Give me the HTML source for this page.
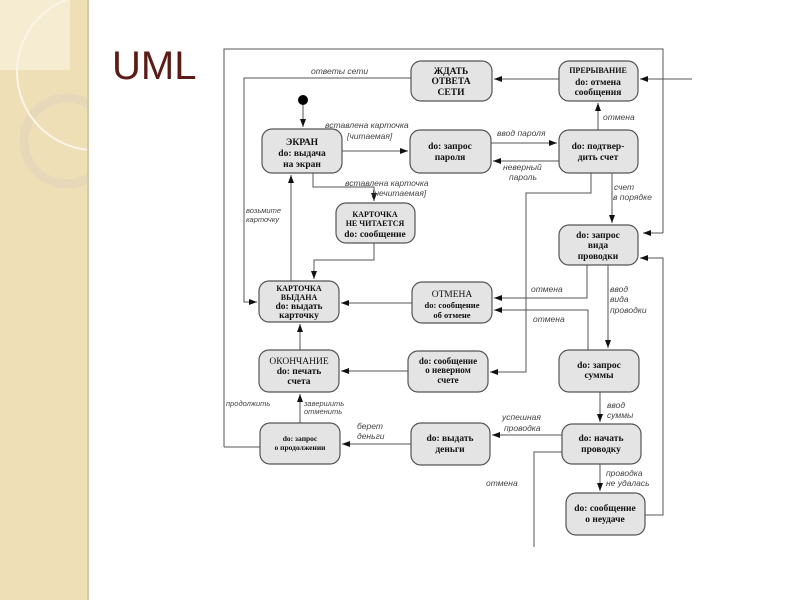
<!DOCTYPE html>
<html><head><meta charset="utf-8"><style>
html,body{margin:0;padding:0;background:#fff;width:800px;height:600px;overflow:hidden}
svg{display:block}
.b{fill:#e4e4e4;stroke:#555;stroke-width:1.2}
.t{font-family:"Liberation Serif","Noto Serif CJK SC",serif;font-weight:bold;font-size:9.5px;fill:#111;text-anchor:middle}
.l{font-family:"Liberation Sans","Noto Sans CJK SC",sans-serif;font-style:italic;font-size:8.5px;fill:#444}
.ln{fill:none;stroke:#555;stroke-width:1}
</style></head><body>
<svg width="800" height="600" viewBox="0 0 800 600">
<defs><marker id="a" markerWidth="8" markerHeight="6" refX="8" refY="3" orient="auto" markerUnits="userSpaceOnUse"><path d="M0,0 L8,3 L0,6z" fill="#111"/></marker>
<clipPath id="cp"><rect x="0" y="0" width="88" height="600"/></clipPath></defs>
<rect x="0" y="0" width="88" height="600" fill="#efdfb6"/>
<rect x="0" y="0" width="70" height="70" fill="#f6ecd2"/>
<g clip-path="url(#cp)">
<circle cx="67" cy="141" r="43" fill="none" stroke="#e6d8b8" stroke-width="9"/>
<circle cx="95" cy="72" r="78" fill="none" stroke="#faf5e8" stroke-width="2"/>
</g>
<line x1="88" y1="0" x2="88" y2="600" stroke="#d6c9a8" stroke-width="2"/>
<text x="112" y="79" font-family="Liberation Sans,sans-serif" font-size="40" fill="#5b1c16">UML</text>

<g class="ln">
<path d="M224,447 V49 H663 V233" /><path d="M663,233 H643" marker-end="url(#a)"/>
<path d="M692,79 H640" marker-end="url(#a)"/>
<path d="M559,79 H494" marker-end="url(#a)"/>
<path d="M411,78 H244 V302 H257" marker-end="url(#a)"/>
<path d="M303,104 V127" marker-end="url(#a)"/>
<path d="M342,151 H408" marker-end="url(#a)"/>
<path d="M491,143 H557" marker-end="url(#a)"/>
<path d="M559,161 H493" marker-end="url(#a)"/>
<path d="M598,130 V103" marker-end="url(#a)"/>
<path d="M612,173 V223" marker-end="url(#a)"/>
<path d="M591,173 V193 H526 V372 H490" marker-end="url(#a)"/>
<path d="M313,173 V187 H374 V201" marker-end="url(#a)"/>
<path d="M374,243 V260 H314 V279" marker-end="url(#a)"/>
<path d="M291,281 V175" marker-end="url(#a)"/>
<path d="M412,303 H341" marker-end="url(#a)"/>
<path d="M587,265 V298 H494" marker-end="url(#a)"/>
<path d="M588,350 V310 H494" marker-end="url(#a)"/>
<path d="M608,265 V348" marker-end="url(#a)"/>
<path d="M300,350 V324" marker-end="url(#a)"/>
<path d="M408,371 H341" marker-end="url(#a)"/>
<path d="M300,423 V394" marker-end="url(#a)"/>
<path d="M260,447 H224"/>
<path d="M411,444 H342" marker-end="url(#a)"/>
<path d="M600,392 V422" marker-end="url(#a)"/>
<path d="M562,435 H492" marker-end="url(#a)"/>
<path d="M562,452 H534 V547"/>
<path d="M600,464 V491" marker-end="url(#a)"/>
<path d="M645,515 H663 V258 H640" marker-end="url(#a)"/>
</g>
<circle cx="303" cy="100" r="5" fill="#000"/>

<rect class="b" x="411" y="61" width="81" height="40" rx="10"/>
<text class="t" x="451" y="74">ЖДАТЬ</text><text class="t" x="451" y="84">ОТВЕТА</text><text class="t" x="451" y="95">СЕТИ</text>
<rect class="b" x="559" y="61" width="79" height="40" rx="10"/>
<text class="t" x="598" y="73" style="font-size:8px">ПРЕРЫВАНИЕ</text><text class="t" x="598" y="85">do: отмена</text><text class="t" x="598" y="95">сообщения</text>
<rect class="b" x="262" y="129" width="80" height="44" rx="10"/>
<text class="t" x="302" y="145">ЭКРАН</text><text class="t" x="302" y="156">do: выдача</text><text class="t" x="302" y="167">на экран</text>
<rect class="b" x="410" y="130" width="81" height="43" rx="10"/>
<text class="t" x="450" y="149">do: запрос</text><text class="t" x="450" y="160">пароля</text>
<rect class="b" x="559" y="130" width="79" height="43" rx="10"/>
<text class="t" x="598" y="149">do: подтвер-</text><text class="t" x="598" y="160">дить счет</text>
<rect class="b" x="336" y="203" width="79" height="40" rx="10"/>
<text class="t" x="375" y="217" style="font-size:8px">КАРТОЧКА</text><text class="t" x="375" y="226" style="font-size:8px">НЕ ЧИТАЕТСЯ</text><text class="t" x="375" y="237">do: сообщение</text>
<rect class="b" x="559" y="225" width="79" height="40" rx="10"/>
<text class="t" x="598" y="238">do: запрос</text><text class="t" x="598" y="248">вида</text><text class="t" x="598" y="259">проводки</text>
<rect class="b" x="259" y="281" width="80" height="41" rx="10"/>
<text class="t" x="299" y="291" style="font-size:8px">КАРТОЧКА</text><text class="t" x="299" y="300" style="font-size:8px">ВЫДАНА</text><text class="t" x="299" y="309">do: выдать</text><text class="t" x="299" y="318">карточку</text>
<rect class="b" x="412" y="282" width="80" height="41" rx="10"/>
<text class="t" x="452" y="297" style="font-weight:normal">ОТМЕНА</text><text class="t" x="452" y="308" style="font-size:8.5px">do: сообщение</text><text class="t" x="452" y="318" style="font-size:8.5px">об отмене</text>
<rect class="b" x="259" y="350" width="80" height="42" rx="10"/>
<text class="t" x="299" y="364" style="font-weight:normal">ОКОНЧАНИЕ</text><text class="t" x="299" y="374">do: печать</text><text class="t" x="299" y="384">счета</text>
<rect class="b" x="408" y="351" width="80" height="41" rx="10"/>
<text class="t" x="448" y="364" style="font-size:9px">do: сообщение</text><text class="t" x="448" y="373" style="font-size:9px">о неверном</text><text class="t" x="448" y="383" style="font-size:9px">счете</text>
<rect class="b" x="559" y="350" width="80" height="42" rx="10"/>
<text class="t" x="599" y="368">do: запрос</text><text class="t" x="599" y="378">суммы</text>
<rect class="b" x="260" y="423" width="80" height="41" rx="10"/>
<text class="t" x="300" y="441" style="font-size:7.5px">do: запрос</text><text class="t" x="300" y="450" style="font-size:7.5px">о продолжении</text>
<rect class="b" x="411" y="423" width="79" height="42" rx="10"/>
<text class="t" x="450" y="441">do: выдать</text><text class="t" x="450" y="452">деньги</text>
<rect class="b" x="562" y="424" width="79" height="40" rx="10"/>
<text class="t" x="601" y="441">do: начать</text><text class="t" x="601" y="452">проводку</text>
<rect class="b" x="566" y="493" width="79" height="42" rx="10"/>
<text class="t" x="605" y="511">do: сообщение</text><text class="t" x="605" y="522">о неудаче</text>

<text class="l" x="311" y="74">ответы сети</text>
<text class="l" x="325" y="128">вставлена карточка</text><text class="l" x="347" y="139">[читаемая]</text>
<text class="l" x="497" y="136">ввод пароля</text>
<text class="l" x="503" y="170">неверный</text><text class="l" x="509" y="180">пароль</text>
<text class="l" x="603" y="120">отмена</text>
<text class="l" x="345" y="186">вставлена карточка</text><text class="l" x="372" y="196">[нечитаемая]</text>
<text class="l" x="614" y="190">счет</text><text class="l" x="613" y="200">в порядке</text>
<text class="l" x="246" y="213" style="font-size:7.5px">возьмите</text><text class="l" x="246" y="222" style="font-size:7.5px">карточку</text>
<text class="l" x="531" y="292">отмена</text>
<text class="l" x="533" y="322">отмена</text>
<text class="l" x="610" y="292">ввод</text><text class="l" x="610" y="302">вида</text><text class="l" x="610" y="313">проводки</text>
<text class="l" x="226" y="406" style="font-size:7.5px">продолжить</text>
<text class="l" x="304" y="406" style="font-size:7.5px">завершить</text><text class="l" x="304" y="414" style="font-size:7.5px">отменить</text>
<text class="l" x="357" y="429">берет</text><text class="l" x="357" y="439">деньги</text>
<text class="l" x="502" y="420">успешная</text><text class="l" x="504" y="431">проводка</text>
<text class="l" x="607" y="408">ввод</text><text class="l" x="607" y="418">суммы</text>
<text class="l" x="606" y="476">проводка</text><text class="l" x="606" y="486">не удалась</text>
<text class="l" x="486" y="486">отмена</text>
</svg>
</body></html>
